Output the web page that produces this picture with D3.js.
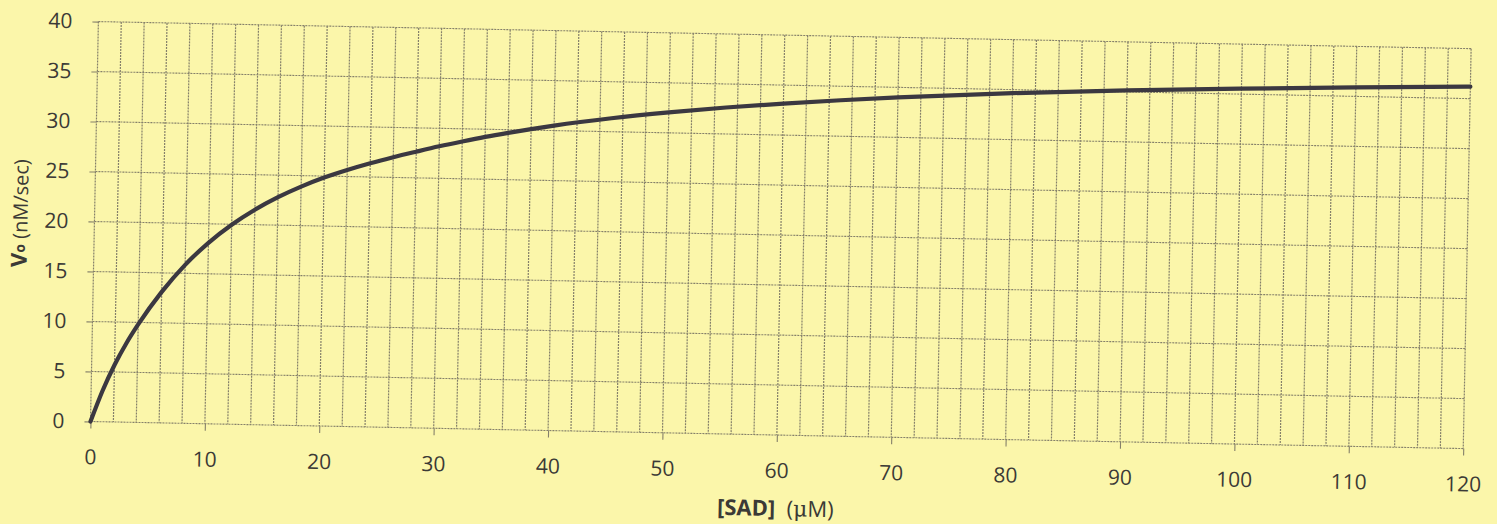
<!DOCTYPE html>
<html>
<head>
<meta charset="utf-8">
<script src="https://cdn.jsdelivr.net/npm/d3@7"></script>
<style>
  body { margin: 0; background: #fbf6aa; }
  svg { display: block; }
</style>
</head>
<body>
<div id="chart"></div>
<script>
// substrate concentration [SAD] (uM) and initial velocity Vo (nM/sec)
const sadConc  = [0, 1, 2, 3, 4, 6, 8, 10, 12, 14, 16, 18, 20, 22, 24, 26, 28, 30, 32, 34, 36, 38, 40,
                  45, 50, 55, 60, 65, 70, 80, 90, 100, 110, 120];
const velocity = [0, 3.1, 5.7, 7.9, 9.8, 13.1, 15.85, 18.1, 19.95, 21.5, 22.8, 23.9, 24.85, 25.65, 26.37, 27.02, 27.62, 28.2, 28.73, 29.23, 29.68, 30.1, 30.5,
                  31.35, 32.05, 32.65, 33.15, 33.6, 34.0, 34.65, 35.15, 35.55, 35.9, 36.2];
const xTickVals = [0, 10, 20, 30, 40, 50, 60, 70, 80, 90, 100, 110, 120];
const yTickVals = [0, 5, 10, 15, 20, 25, 30, 35, 40];
const xGridStep = 2;

// set the dimensions and margins of the graph
const margin = { top: 21.5, left: 90.5 },
  width = 1373,
  height = 400,
  tilt = 1.13; // the scanned page sits slightly rotated

const gridColor = "#85806a",
  textColor = "#3b3a36",
  fontFam = "'Open Sans', Lato, sans-serif";

const svg = d3.select("#chart")
  .append("svg")
  .attr("width", 1497)
  .attr("height", 524);

svg.append("rect")
  .attr("width", 1497)
  .attr("height", 524)
  .attr("fill", "#fbf6aa");

const g = svg.append("g")
  .attr("transform", `rotate(${tilt}, ${margin.left}, ${margin.top + height}) translate(${margin.left},${margin.top})`);

const x = d3.scaleLinear().domain([0, 120]).range([0, width]);
const y = d3.scaleLinear().domain([0, 40]).range([height, 0]);

// vertical grid every 2 uM
g.append("g")
  .selectAll("line")
  .data(d3.range(0, 120 + xGridStep, xGridStep))
  .join("line")
  .attr("x1", d => x(d)).attr("x2", d => x(d))
  .attr("y1", 0).attr("y2", height)
  .attr("stroke", gridColor)
  .attr("stroke-width", 1.2)
  .attr("stroke-dasharray", "2,1");

// horizontal grid every 5
g.append("g")
  .selectAll("line")
  .data(yTickVals)
  .join("line")
  .attr("x1", 0).attr("x2", width)
  .attr("y1", d => y(d)).attr("y2", d => y(d))
  .attr("stroke", gridColor)
  .attr("stroke-width", 1.1)
  .attr("stroke-dasharray", "2,1");

// Y axis
const yAxis = g.append("g")
  .call(d3.axisLeft(y).tickValues(yTickVals).tickSize(6).tickPadding(20));
yAxis.select(".domain").remove();

// X axis
const xAxis = g.append("g")
  .attr("transform", `translate(0,${height})`)
  .call(d3.axisBottom(x).tickValues(xTickVals).tickSize(7).tickPadding(21));
xAxis.select(".domain").remove();

[xAxis, yAxis].forEach(a => {
  a.selectAll("line").attr("stroke", gridColor).attr("stroke-width", 1.1);
  a.selectAll("text")
    .attr("fill", textColor)
    .style("font-family", fontFam)
    .style("font-size", "21px");
});

// the curve
const line = d3.line()
  .x((d, i) => x(sadConc[i]))
  .y(d => y(d))
  .curve(d3.curveMonotoneX);

g.append("path")
  .datum(velocity)
  .attr("d", line)
  .attr("fill", "none")
  .attr("stroke", "#3b3841")
  .attr("stroke-width", 4.2)
  .attr("stroke-linecap", "round");

// axis titles
const xTitle = g.append("text")
  .attr("x", x(60))
  .attr("y", height + 81)
  .attr("text-anchor", "middle")
  .attr("fill", textColor)
  .style("font-family", fontFam)
  .style("font-size", "22px");
xTitle.append("tspan").attr("font-weight", "bold").text("[SAD]");
xTitle.append("tspan").text("\u00a0 (");
xTitle.append("tspan").style("font-family", "'DejaVu Serif', serif").text("\u03bc");
xTitle.append("tspan").text("M)");

const yTitle = g.append("text")
  .attr("transform", `translate(-67,193) rotate(-90)`)
  .attr("text-anchor", "middle")
  .attr("fill", textColor)
  .style("font-family", fontFam)
  .style("font-size", "20px");
yTitle.append("tspan").attr("font-weight", "bold").style("font-size", "22px").text("V");
yTitle.append("tspan").attr("font-weight", "bold").style("font-size", "14px").attr("dy", -2).text("o");
yTitle.append("tspan").attr("dy", 2).text(" (nM/sec)");
</script>
</body>
</html>
